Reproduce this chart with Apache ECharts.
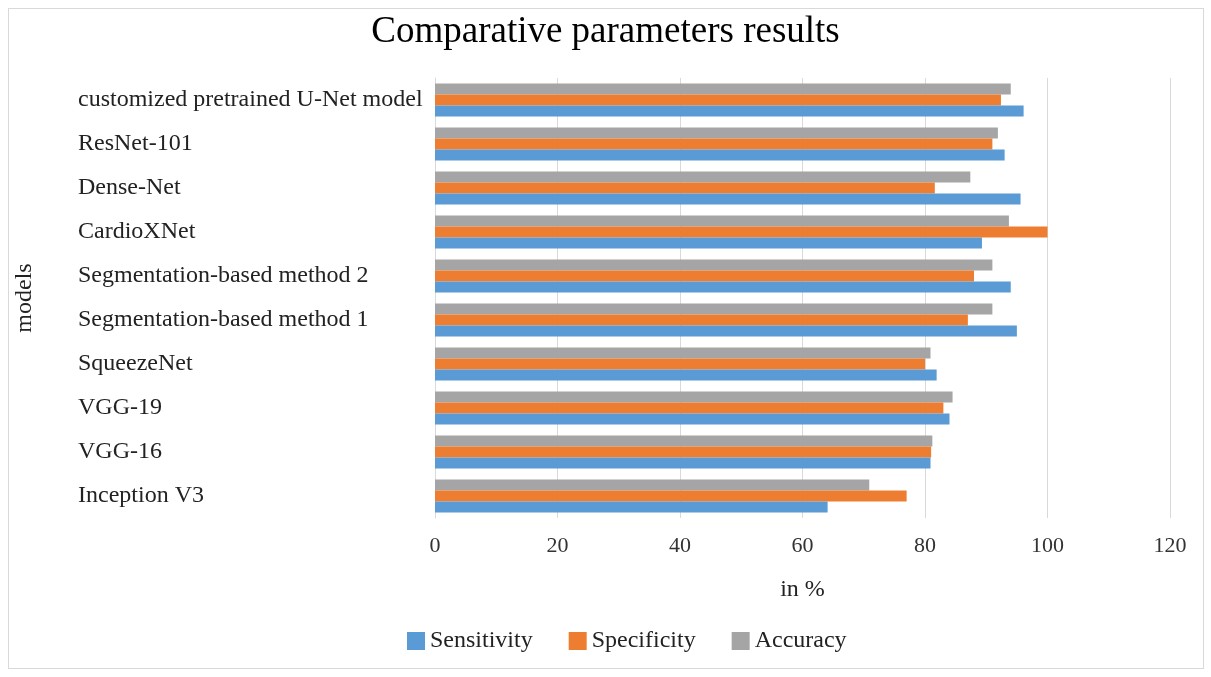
<!DOCTYPE html>
<html>
<head>
<meta charset="utf-8">
<script src="https://cdn.jsdelivr.net/npm/echarts@6/dist/echarts.min.js"></script>
<style>
  html, body { margin: 0; padding: 0; background: #fff; }
  #frame { position: absolute; left: 8px; top: 8px; width: 1196px; height: 661px; border: 1px solid #d9d9d9; box-sizing: border-box; }
  #chart { position: absolute; left: 0; top: 0; width: 1211px; height: 677px; }
</style>
</head>
<body>
<div id="frame"></div>
<div id="chart"></div>
<script>
// Models, listed from the bottom of the axis to the top
const models = [
  'Inception V3',
  'VGG-16',
  'VGG-19',
  'SqueezeNet',
  'Segmentation-based method 1',
  'Segmentation-based method 2',
  'CardioXNet',
  'Dense-Net',
  'ResNet-101',
  'customized pretrained U-Net model'
];

// Scores in percent, same order as models
const sensitivity = [64.1, 80.9, 84.0, 81.9, 95.0, 94.0, 89.3, 95.6, 93.0, 96.1];
const specificity = [77.0, 81.0, 83.0, 80.0, 87.0, 88.0, 100.0, 81.6, 91.0, 92.4];
const accuracy    = [70.9, 81.2, 84.5, 80.9, 91.0, 91.0, 93.7, 87.4, 91.9, 94.0];

const xTicks = [0, 20, 40, 60, 80, 100, 120];

const serif = '"Liberation Serif", "DejaVu Serif", serif';
const chart = echarts.init(document.getElementById('chart'), null, { renderer: 'canvas' });

// Within each group the first series is drawn at the top, so Accuracy goes first;
// the legend keeps the Sensitivity / Specificity / Accuracy order.
const barStyle = { type: 'bar', barGap: '0%', barCategoryGap: '25%' };

chart.setOption({
  animation: false,
  backgroundColor: 'transparent',
  textStyle: { fontFamily: serif },
  title: {
    text: 'Comparative parameters results',
    left: 'center',
    top: 9,
    textStyle: { fontFamily: serif, fontSize: 37, fontWeight: 'normal', color: '#000' }
  },
  legend: {
    bottom: 19,
    left: 402,
    itemWidth: 18,
    itemHeight: 18,
    itemGap: 36,
    icon: 'rect',
    textStyle: { fontFamily: serif, fontSize: 24, color: '#222' },
    data: ['Sensitivity', 'Specificity', 'Accuracy']
  },
  grid: { left: 435, right: 41, top: 78, bottom: 159 },
  xAxis: {
    type: 'value',
    min: xTicks[0],
    max: xTicks[xTicks.length - 1],
    interval: 20,
    name: 'in %',
    nameLocation: 'middle',
    nameGap: 60,
    nameTextStyle: { fontFamily: serif, fontSize: 24, color: '#222' },
    axisLine: { show: false },
    axisTick: { show: false },
    axisLabel: { fontFamily: serif, fontSize: 22, color: '#333', margin: 17 },
    splitLine: { show: true, lineStyle: { color: '#d9d9d9', width: 1 } }
  },
  yAxis: {
    type: 'category',
    data: models,
    name: 'models',
    nameLocation: 'middle',
    nameGap: 398,
    nameRotate: 90,
    nameTextStyle: { fontFamily: serif, fontSize: 24, color: '#222' },
    axisLine: { show: true, lineStyle: { color: '#d9d9d9' } },
    axisTick: { show: false },
    axisLabel: { fontFamily: serif, fontSize: 24, color: '#222', align: 'left', margin: 357 }
  },
  series: [
    Object.assign({ name: 'Accuracy',    data: accuracy,    itemStyle: { color: '#a5a5a5' } }, barStyle),
    Object.assign({ name: 'Specificity', data: specificity, itemStyle: { color: '#ed7d31' } }, barStyle),
    Object.assign({ name: 'Sensitivity', data: sensitivity, itemStyle: { color: '#5b9bd5' } }, barStyle)
  ]
});
</script>
</body>
</html>
